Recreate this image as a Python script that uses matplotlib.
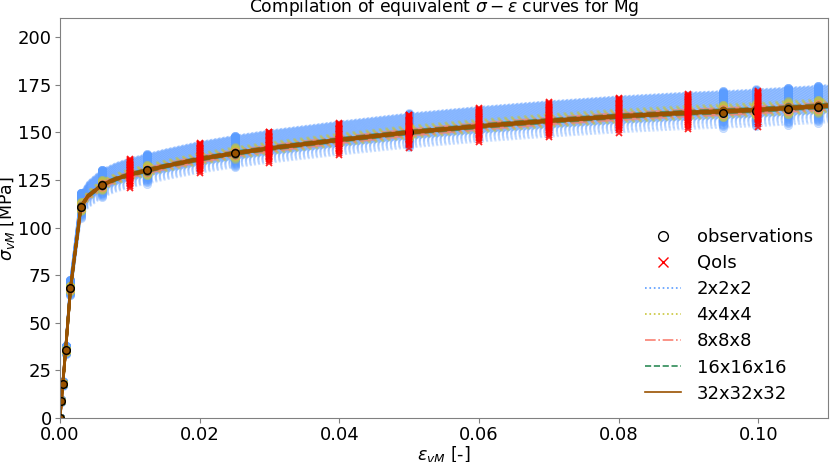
import numpy as np
import matplotlib
matplotlib.use("Agg")
import matplotlib.pyplot as plt
from matplotlib.lines import Line2D

# ---- data ----
curve_strain = [0.0, 0.0002, 0.0004, 0.0008, 0.0015, 0.003, 0.004, 0.006, 0.008,
                0.01, 0.0125, 0.015, 0.02, 0.025, 0.03, 0.04, 0.05, 0.06, 0.07,
                0.08, 0.09, 0.095, 0.0997, 0.1042, 0.1086, 0.11]
curve_stress = [0.0, 9.0, 18.0, 35.5, 68.0, 111.0, 116.5, 122.3, 125.5,
                127.8, 130.0, 132.2, 136.0, 139.0, 141.6, 146.0, 150.0, 153.2, 156.0,
                158.4, 160.3, 161.0, 161.8, 162.7, 163.6, 164.0]

obs_strain = [0.0, 0.0002, 0.0004, 0.0008, 0.0015, 0.003, 0.006, 0.0125,
              0.025, 0.05, 0.095, 0.0997, 0.1042, 0.1086]
obs_stress = [0.0, 9.0, 18.0, 35.5, 68.0, 111.0, 122.3, 130.0,
              139.0, 150.0, 160.2, 161.3, 162.3, 163.4]

qoi_strain = [0.01, 0.02, 0.03, 0.04, 0.05, 0.06, 0.07, 0.08, 0.09, 0.10]
qoi_stress = [127.8, 136.0, 141.6, 146.0, 150.0, 153.2, 156.0, 158.4, 160.3, 161.8]

dev_2x2x2 = [0.066, 0.065, 0.064, 0.063, 0.062, 0.061, 0.060, 0.059, 0.058, 0.057,
             0.056, 0.055, 0.054, 0.053, 0.052, 0.051, 0.050, 0.049, 0.048, 0.047,
             0.046, 0.045, 0.044, 0.043, 0.042, 0.041, 0.040, 0.039, 0.038, 0.037,
             0.036, 0.035, 0.034, 0.033, 0.032, 0.031, 0.030, 0.029, 0.028, 0.027,
             0.026, 0.025, 0.024, 0.023, 0.022, 0.021, 0.020, 0.019, 0.018, 0.017,
             0.016, 0.015, 0.014, 0.013, 0.012, 0.011, 0.010, 0.009, 0.008, 0.007,
             0.006, 0.005, 0.004, 0.003, 0.002, 0.001, 0.000, -0.001, -0.002,
             -0.003, -0.004, -0.005, -0.006, -0.007, -0.008, -0.009, -0.010,
             -0.011, -0.012, -0.013, -0.014, -0.015, -0.016, -0.017, -0.018,
             -0.019, -0.020, -0.021, -0.022, -0.023, -0.025, -0.027, -0.030,
             -0.033, -0.036, -0.040, -0.044, -0.048, -0.053]
dev_4x4x4 = [0.022, 0.020, 0.018, 0.016, 0.014, 0.012, 0.010, 0.008, 0.006, 0.004,
             0.002, 0.000, -0.002, -0.004, -0.006, -0.008, -0.010, -0.012, -0.014,
             -0.016, -0.018, -0.020]
dev_8x8x8 = [0.010, 0.008, 0.006, 0.004, 0.002, 0.000, -0.002, -0.004, -0.006,
             -0.008, -0.010, -0.012]
dev_16x16x16 = [0.006, 0.004, 0.002, 0.0, -0.002, -0.004, -0.006]
dev_32x32x32 = [0.003, 0.0015, 0.0, -0.0015, -0.003]
dev_qoi = [0.062, 0.059, 0.056, 0.053, 0.050, 0.047, 0.044, 0.041, 0.038, 0.035,
           0.032, 0.029, 0.026, 0.023, 0.020, 0.017, 0.014, 0.011, 0.008, 0.005,
           0.002, -0.001, -0.004, -0.007, -0.010, -0.013, -0.016, -0.019, -0.022,
           -0.025, -0.028, -0.031, -0.034, -0.040, -0.046, -0.055]

labels = ["2x2x2", "4x4x4", "8x8x8", "16x16x16", "32x32x32"]
colors = ["#5a9cff", "#c9c63a", "#fa8072", "#2e8b57", "#9a5200"]
legend_styles = [":", ":", "-.", "--", "-"]
alphas = [0.3, 0.3, 0.45, 0.6, 0.85]
widths = [1.5, 1.8, 1.8, 1.8, 2.0]
msizes = [6, 6, 5, 5, 5]
devs = [dev_2x2x2, dev_4x4x4, dev_8x8x8, dev_16x16x16, dev_32x32x32]

# ---- plotting ----
fig = plt.figure(figsize=(8.30, 4.62), dpi=100)
ax = fig.add_axes([0.0723, 0.0952, 0.9253, 0.8658])

x = np.array(curve_strain)
y = np.array(curve_stress)
mark_idx = [curve_strain.index(s) for s in obs_strain]

for k, (lab, c, ls, a, lw, ms, dv) in enumerate(
        zip(labels, colors, legend_styles, alphas, widths, msizes, devs)):
    for i, d in enumerate(dv):
        if k == 0:
            style = ((i * 0.37) % 2.0, (1, 1))
        else:
            style = ls
        ax.plot(x, y * (1 + d), linestyle=style, color=c, alpha=a, lw=lw,
                marker="o", markevery=mark_idx, markersize=ms,
                markerfacecolor=c, markeredgecolor=c, markeredgewidth=0.5)

ax.plot(obs_strain, obs_stress, linestyle="none", marker="o", markersize=5.5,
        markerfacecolor="none", markeredgecolor="black", markeredgewidth=1.0)

qs = np.array(qoi_stress)
for d in dev_qoi:
    ax.plot(qoi_strain, qs * (1 + d), linestyle="none", marker="x", markersize=4,
            color="red", markeredgewidth=1.3, alpha=0.85)

ax.set_xlim(0, 0.11)
ax.set_ylim(0, 210)
ax.set_xticks([0.0, 0.02, 0.04, 0.06, 0.08, 0.10])
ax.set_yticks([0, 25, 50, 75, 100, 125, 150, 175, 200])
ax.tick_params(labelsize=13, color="grey", length=3.5, pad=2.5)
for sp in ax.spines.values():
    sp.set_color("grey")

ax.set_xlabel(r"$\epsilon_{vM}$ [-]", fontsize=12.5, labelpad=0)
ax.set_ylabel(r"$\sigma_{vM}$ [MPa]", fontsize=12.5, labelpad=0)
ax.set_title(r"Compilation of equivalent $\sigma - \epsilon$ curves for Mg",
             fontsize=12.3, pad=1.5)

handles = [Line2D([], [], linestyle="none", marker="o", markerfacecolor="none",
                  markeredgecolor="black", markersize=7),
           Line2D([], [], linestyle="none", marker="x", color="red", markersize=7)]
for c, ls in zip(colors, legend_styles):
    handles.append(Line2D([], [], linestyle=ls, color=c, lw=1.2))
ax.legend(handles, ["observations", "QoIs"] + labels, loc="lower right",
          frameon=False, fontsize=13, handlelength=2.0, handletextpad=0.85,
          labelspacing=0.45, borderaxespad=0.45)

fig.savefig("out.png", dpi=100)
